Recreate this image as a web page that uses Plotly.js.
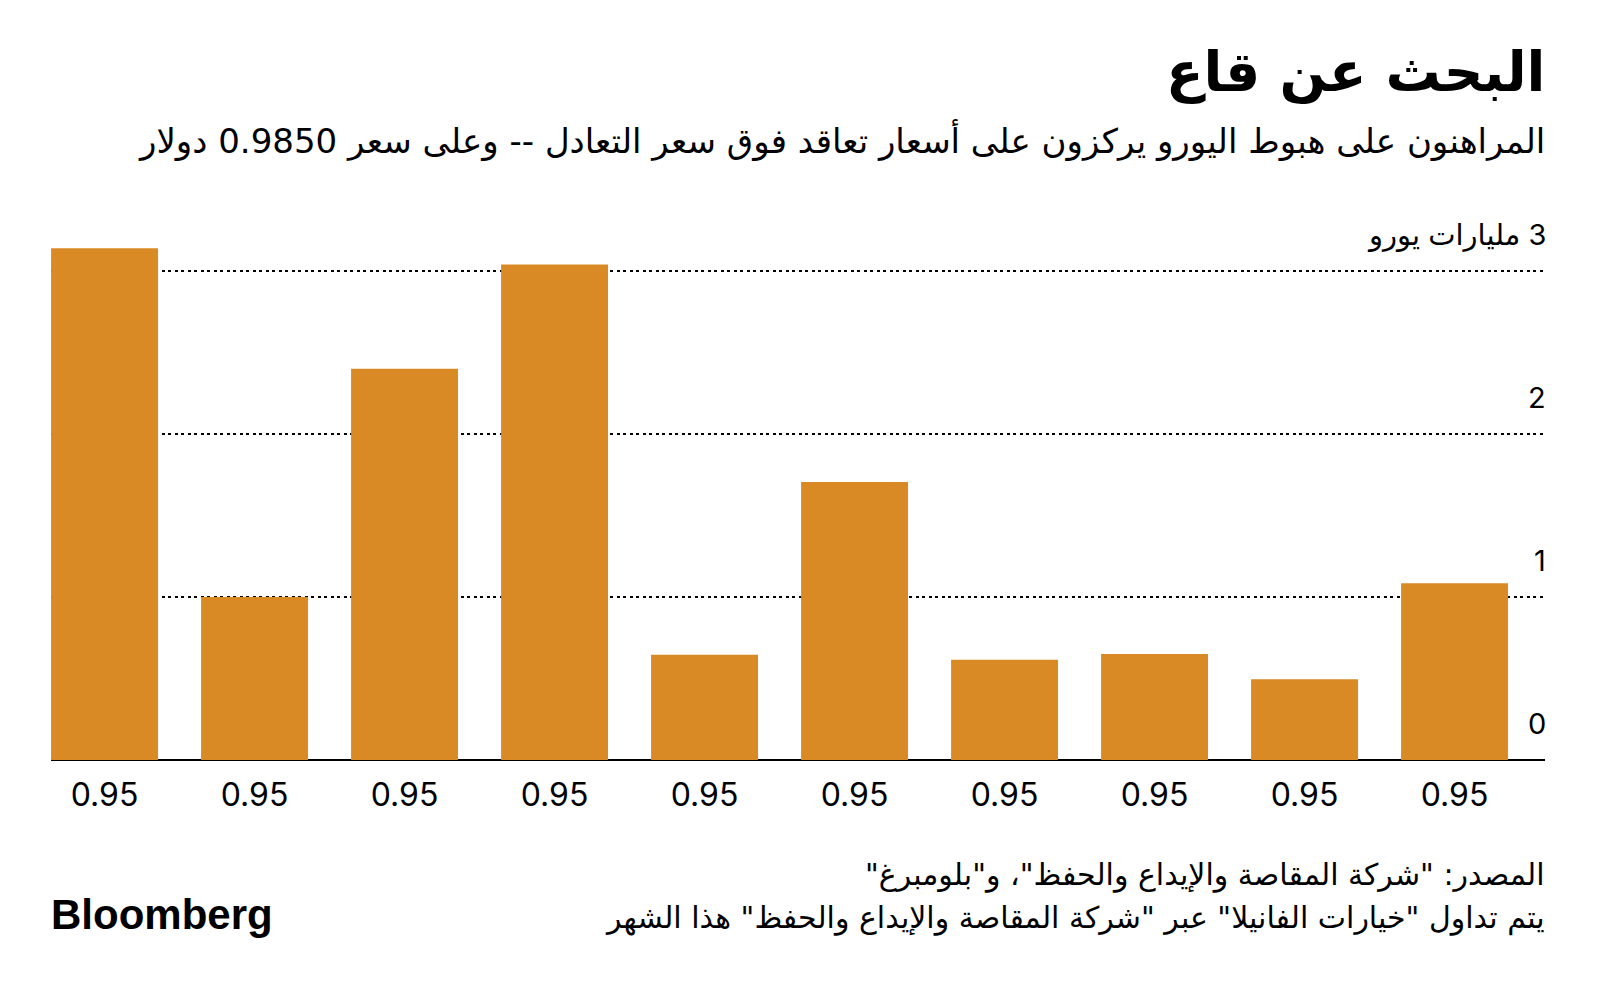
<!DOCTYPE html>
<html>
<head>
<meta charset="utf-8">
<script src="https://cdn.plot.ly/plotly-3.0.1.min.js"></script>
<style>
html,body{margin:0;padding:0;background:#fff;}
#chart{width:1600px;height:993px;}
</style>
</head>
<body>
<div id="chart"></div>
<script>
// ---- data ----
const categories = ['0.95','0.95','0.95','0.95','0.95','0.95','0.95','0.95','0.95','0.95'];
const values = [3.14, 1.0, 2.40, 3.04, 0.645, 1.705, 0.615, 0.65, 0.495, 1.085];
const yTickVals = [0, 1, 2, 3];
const yTickText = ['0', '1', '2', '3 مليارات يورو'];
const titleText = 'البحث عن قاع';
const subtitleText = 'المراهنون على هبوط اليورو يركزون على أسعار تعاقد فوق سعر التعادل -- وعلى سعر 0.9850 دولار';
const sourceLines = [
  'المصدر: "شركة المقاصة والإيداع والحفظ"، و"بلومبرغ"',
  'يتم تداول "خيارات الفانيلا" عبر "شركة المقاصة والإيداع والحفظ" هذا الشهر'
];
const brand = 'Bloomberg';

// ---- layout geometry ----
const W = 1600, H = 993;
const L = 51, R = 1545, T = 230, B = 760;
const unit = 163;
const yMax = (B - T) / unit;
const px = x => (x - L) / (R - L);
const py = y => (B - y) / (B - T);
const rtl = s => '\u202B' + s + '\u202C';

const fontLatin = 'Inter, "DejaVu Sans", sans-serif';
const fontAr = '"DejaVu Sans", sans-serif';

const xs = categories.map((_, i) => i);

const trace = {
  type: 'bar',
  x: xs,
  y: values,
  marker: {color: '#DA8A25', line: {width: 0}},
  hoverinfo: 'skip'
};

const annotations = [];
yTickVals.forEach((v, i) => {
  annotations.push({
    x: 1, xref: 'paper', xanchor: 'right', xshift: 3,
    y: v, yref: 'y', yanchor: 'bottom', yshift: 17,
    text: i === yTickVals.length - 1 ? rtl(yTickText[i]) : yTickText[i],
    showarrow: false,
    font: {family: fontLatin, size: 29, color: '#000'}
  });
});
annotations.push({
  x: px(1547), xref: 'paper', xanchor: 'right',
  y: py(72), yref: 'paper', yanchor: 'middle',
  text: '<b>' + rtl(titleText) + '</b>', showarrow: false,
  font: {family: fontAr, size: 55, color: '#000'}
});
annotations.push({
  x: px(1547), xref: 'paper', xanchor: 'right',
  y: py(140), yref: 'paper', yanchor: 'middle',
  text: rtl(subtitleText), showarrow: false,
  font: {family: fontAr, size: 34, color: '#000'}
});
sourceLines.forEach((s, i) => {
  annotations.push({
    x: px(1547), xref: 'paper', xanchor: 'right',
    y: py(875 + i * 43), yref: 'paper', yanchor: 'middle',
    text: rtl(s), showarrow: false,
    font: {family: fontAr, size: 30, color: '#000'}
  });
});
annotations.push({
  x: px(49), xref: 'paper', xanchor: 'left',
  y: py(914), yref: 'paper', yanchor: 'middle',
  text: '<b>' + brand + '</b>', showarrow: false,
  font: {family: '"Liberation Sans", Arial, sans-serif', size: 42, color: '#000'}
});

const layout = {
  width: W, height: H,
  paper_bgcolor: '#fff', plot_bgcolor: '#fff',
  margin: {l: L, r: W - R, t: T, b: H - B, pad: 0},
  showlegend: false,
  bargap: 0.287,
  xaxis: {
    type: 'linear',
    range: [-0.357, 9.603],
    tickvals: xs,
    ticktext: categories,
    showgrid: false, zeroline: false, showline: false,
    ticks: '', ticklabelstandoff: 13,
    tickfont: {family: fontLatin, size: 32, color: '#000'},
    fixedrange: true
  },
  yaxis: {
    range: [0, yMax],
    side: 'right',
    tickvals: yTickVals,
    showticklabels: false,
    showgrid: true, gridcolor: '#000', gridwidth: 1.6, griddash: '3px,3.5px',
    zeroline: true, zerolinecolor: '#000', zerolinewidth: 2.5,
    showline: false, ticks: '',
    fixedrange: true
  },
  annotations: annotations
};

Plotly.newPlot('chart', [trace], layout, {displayModeBar: false, staticPlot: true});
</script>
</body>
</html>
